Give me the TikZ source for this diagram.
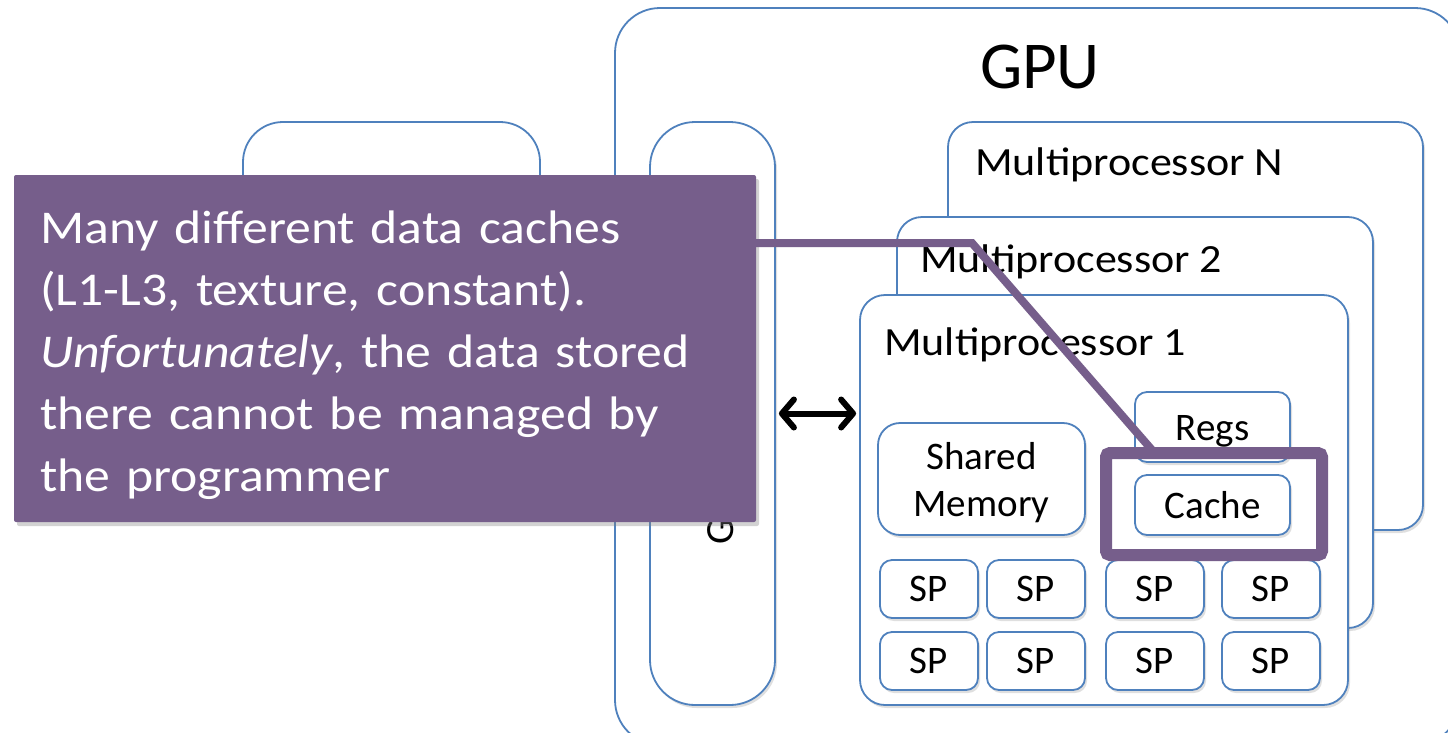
\documentclass[tikz,border=0pt]{standalone}
\usepackage{fontspec}
\setmainfont{Carlito}
\newfontfamily\widefont{Carlito}[FakeStretch=1.1]
\usetikzlibrary{shadows,arrows.meta}
\definecolor{boxblue}{RGB}{79,129,189}
\definecolor{calloutpurple}{RGB}{118,94,139}
\begin{document}
\begin{tikzpicture}[x=1pt,y=-1pt,
  outerbox/.style={draw=boxblue, line width=1.8pt, fill=white, inner sep=0pt},
  mpbox/.style={outerbox, rounded corners=25pt, drop shadow={shadow xshift=2pt, shadow yshift=-3pt, opacity=0.25}},
  smallbox/.style={outerbox, rounded corners=12pt, drop shadow={shadow xshift=2pt, shadow yshift=-3pt, opacity=0.25}},
  boxtext/.style={font=\fontsize{39}{49}\selectfont, align=center},
  mptext/.style={font=\widefont\fontsize{40}{48}\selectfont, anchor=base west, inner sep=0pt},
  dblarrow/.style={line width=6pt, line cap=round, {Straight Barb[length=12pt,width=28pt,line cap=round,line join=round]}-{Straight Barb[length=12pt,width=28pt,line cap=round,line join=round]}},
  calloutline/.style={draw=calloutpurple, line width=8pt, line join=miter}
]
\useasboundingbox (0,0) rectangle (1448,732);
\clip (0,0) rectangle (1448,732);
\fill[white] (0,0) rectangle (1448,732);

% GPU frame
\node[outerbox, rounded corners=45pt, minimum width=845pt, minimum height=737pt] (gpu) at (1037.5,376.5) {};
\node[font=\fontsize{67}{80}\selectfont, anchor=base, inner sep=0pt] (gputext) at (1040,88) {GPU};

% host box (behind callout)
\node[outerbox, rounded corners=40pt, minimum width=297pt, minimum height=378pt] (host) at (391.5,311) {};

% global memory pill
\node[outerbox, rounded corners=45pt, minimum width=125pt, minimum height=583pt, drop shadow={shadow xshift=2pt, shadow yshift=-3pt, opacity=0.25}] (pill) at (712.5,413.5) {};
\node[font=\fontsize{40}{48}\selectfont, rotate=90, anchor=base west, inner sep=0pt] (gtext) at (733,545) {G};

% multiprocessors
\node[mpbox, minimum width=475pt, minimum height=408pt] (mpN) at (1185.5,326) {};
\node[mptext] (mpNt) at (975,175) {Multiprocessor N};
\node[mpbox, minimum width=476pt, minimum height=411pt] (mp2) at (1135,422.5) {};
\node[mptext] (mp2t) at (920,272) {Multiprocessor 2};
\node[mpbox, minimum width=488pt, minimum height=410pt] (mp1) at (1104,500) {};
\node[mptext] (mp1t) at (884,355) {Multiprocessor 1};

% inner boxes
\node[smallbox, rounded corners=22pt, minimum width=207pt, minimum height=112pt] (shared) at (981.5,479) {};
\node[boxtext, inner sep=0pt] (sharedt) at (981.5,483) {Shared\\[-2pt]Memory};
\node[smallbox, minimum width=155pt, minimum height=70pt] (regs) at (1212.5,427) {};
\node[boxtext, anchor=base, inner sep=0pt] (regst) at (1212.5,440) {Regs};
\node[smallbox, minimum width=155pt, minimum height=60pt, boxtext] (cache) at (1212.5,505) {\raisebox{-2pt}{Cache}};

\foreach \r/\y in {1/589,2/661}{
  \foreach \c/\x in {1/929,2/1036,3/1155,4/1271}{
    \node[smallbox, minimum width=98pt, minimum height=58pt, boxtext] (sp\r\c) at (\x,\y) {\raisebox{-4pt}{SP}};
  }
}

% arrow between memory and multiprocessor
\draw[dblarrow] ([xshift=3pt]pill.east) -- ([xshift=-3pt]pill.east -| mp1.west);

% highlight around cache
\node[draw=calloutpurple, line width=12pt, rounded corners=4pt, minimum width=216pt, minimum height=102pt, inner sep=0pt] (hl) at (1214,504) {};

% callout connector
\coordinate (bend) at (972,243);
\coordinate (hltop) at (1152,450);
\node[fill=calloutpurple, minimum width=742pt, minimum height=347pt, inner sep=0pt, rounded corners=2pt, drop shadow={shadow xshift=3pt, shadow yshift=-4pt, opacity=0.35}] (callout) at (385,348.5) {};
\draw[calloutline] (callout.east |- bend) -- (bend) -- (hltop);
\node[text=white, font=\widefont\fontsize{47}{62}\selectfont, align=left, text width=720pt, anchor=north west, inner sep=0pt] (callouttext) at (40,211)
{Many different data caches\\(L1-L3, texture, constant).\\\textit{Unfortunately}, the data stored\\there cannot be managed by\\the programmer};
\end{tikzpicture}
\end{document}
